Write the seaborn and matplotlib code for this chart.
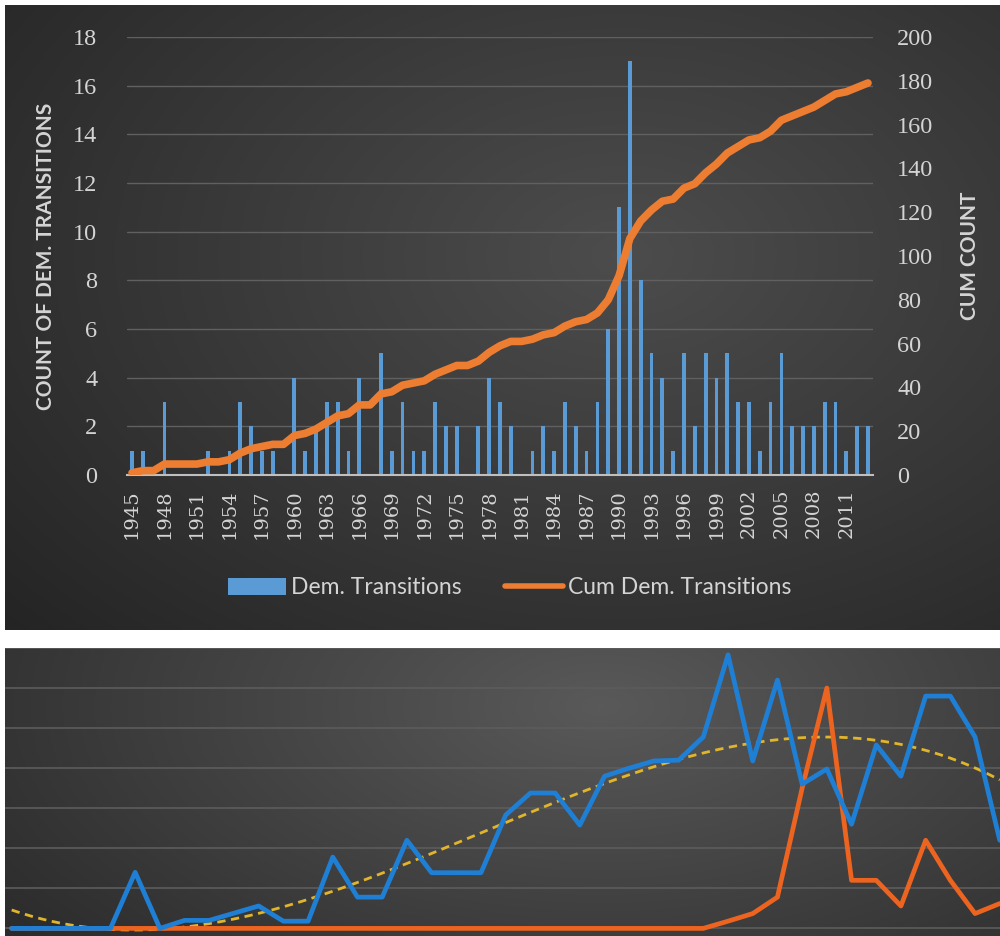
import numpy as np
import pandas as pd
import matplotlib
matplotlib.use("Agg")
import matplotlib.pyplot as plt
from matplotlib.patches import Patch
from matplotlib.lines import Line2D
import seaborn as sns

# top chart: democratic transitions per year, 1945-2013
years = list(range(1945, 2014))
transitions = [1, 1, 0, 3, 0, 0, 0, 1, 0, 1,
               3, 2, 1, 1, 0, 4, 1, 2, 3, 3,
               1, 4, 0, 5, 1, 3, 1, 1, 3, 2,
               2, 0, 2, 4, 3, 2, 0, 1, 2, 1,
               3, 2, 1, 3, 6, 11, 17, 8, 5, 4,
               1, 5, 2, 5, 4, 5, 3, 3, 1, 3,
               5, 2, 2, 2, 3, 3, 1, 2, 2]
left_ticks = [0, 2, 4, 6, 8, 10, 12, 14, 16, 18]
right_ticks = [0, 20, 40, 60, 80, 100, 120, 140, 160, 180, 200]

# bottom chart: two series over 41 periods (no axis labels in the source)
periods = list(range(41))
blue_series = [0, 0, 0, 0, 0, 1.4, 0, 0.2, 0.2, 0.38,
               0.56, 0.18, 0.18, 1.78, 0.78, 0.78, 2.2, 1.39, 1.39, 1.39,
               2.83, 3.38, 3.38, 2.58, 3.8, 4.0, 4.18, 4.2, 4.78, 6.83,
               4.18, 6.2, 3.6, 3.98, 2.6, 4.58, 3.8, 5.8, 5.8, 4.78,
               2.2]
orange_series = [0, 0, 0, 0, 0, 0, 0, 0, 0, 0,
                 0, 0, 0, 0, 0, 0, 0, 0, 0, 0,
                 0, 0, 0, 0, 0, 0, 0, 0, 0, 0.18,
                 0.37, 0.78, 3.5, 6.0, 1.2, 1.2, 0.56, 2.2, 1.2, 0.37,
                 0.62]

sns.set_theme(style="dark")
plt.rcParams["font.family"] = ["Lato", "DejaVu Sans"]

W, H = 1000, 936
fig = plt.figure(figsize=(W / 100, H / 100), dpi=100, facecolor="white")


def px(x0, y0, x1, y1):
    # pixel box (top-left origin) -> figure fraction rect
    return [x0 / W, 1 - y1 / H, (x1 - x0) / W, (y1 - y0) / H]


def radial_bg(rect, center, spread, inner, outer):
    bg = fig.add_axes(rect, zorder=-5)
    yy, xx = np.mgrid[0:1:300j, 0:1:300j]
    d = np.sqrt(((xx - center[0]) / spread[0]) ** 2 + ((yy - center[1]) / spread[1]) ** 2)
    d = np.clip(d, 0, 1)[..., None]
    img = np.array(inner)[None, None, :] * (1 - d) + np.array(outer)[None, None, :] * d
    bg.imshow(img, origin="lower", aspect="auto", extent=[0, 1, 0, 1])
    bg.set_axis_off()
    return bg


radial_bg(px(5, 5, 1000, 630), (0.62, 0.6), (0.85, 0.9), (0.30, 0.30, 0.30), (0.14, 0.14, 0.14))
radial_bg(px(5, 648, 1000, 936), (0.6, 0.8), (0.75, 1.3), (0.35, 0.35, 0.35), (0.17, 0.17, 0.17))

# ---- top chart ----
tick_col = "#d4d4d4"
df = pd.DataFrame({"year": years, "count": transitions})
df["cum"] = df["count"].cumsum()
df["pos"] = np.arange(len(df))

ax = fig.add_axes(px(126.6, 37, 873.4, 475))
ax.set_facecolor("none")
sns.barplot(data=df, x="year", y="count", color="#5b9bd5", saturation=1,
            width=0.35, edgecolor="none", linewidth=0, ax=ax)
ax.set_xlim(-0.5, len(years) - 0.5)
ax.set_ylim(0, 18)
ax.set_yticks(left_ticks)
ax.set_yticklabels([str(t) for t in left_ticks], family="Liberation Serif",
                   fontsize=17.5, color=tick_col)
ax.set_xticks(df["pos"][::3])
ax.set_xticklabels([str(y) for y in years[::3]], rotation=90,
                   family="DejaVu Serif", fontsize=14, color=tick_col)
ax.tick_params(axis="both", length=0)
ax.tick_params(axis="y", pad=21)
ax.tick_params(axis="x", pad=10)
ax.yaxis.grid(True, color="#606060", lw=1)
ax.set_axisbelow(True)
for s in ["top", "left", "right"]:
    ax.spines[s].set_visible(False)
ax.spines["bottom"].set_color("#bfbfbf")
ax.spines["bottom"].set_linewidth(1.5)
ax.set_xlabel("")
ax.set_ylabel("COUNT OF DEM. TRANSITIONS", fontsize=15, fontweight="bold",
              color=tick_col)
ax.yaxis.set_label_coords(-0.0945, 0.5)

ax2 = ax.twinx()
sns.lineplot(data=df, x="pos", y="cum", color="#ed7d31", lw=5.5, ax=ax2)
ax2.set_ylim(0, 200)
ax2.set_yticks(right_ticks)
ax2.set_yticklabels([str(t) for t in right_ticks], family="Liberation Serif",
                    fontsize=17.5, color=tick_col)
ax2.tick_params(axis="y", length=0, pad=17)
for s in ax2.spines.values():
    s.set_visible(False)
ax2.set_ylabel("CUM COUNT", fontsize=15, fontweight="bold", color=tick_col,
               rotation=90)
ax2.yaxis.set_label_coords(1.116, 0.5)
ax2.grid(False)

handles = [Patch(facecolor="#5b9bd5", edgecolor="none"),
           Line2D([0], [0], color="#ed7d31", lw=4)]
fig.legend(handles, ["Dem. Transitions", "Cum Dem. Transitions"],
           loc="center", bbox_to_anchor=(0.51, 1 - 588 / H), ncol=2,
           frameon=False, fontsize=16.5, labelcolor=tick_col,
           handlelength=2.5, handletextpad=0.25, columnspacing=1.9)

# ---- bottom chart ----
bx = fig.add_axes(px(5, 648, 1000, 936))
bx.set_facecolor("none")
sns.regplot(x=periods, y=blue_series, order=3, scatter=False, ci=None,
            ax=bx, line_kws=dict(color="#e0b52c", lw=2, ls=(0, (3, 2))))
sns.lineplot(x=periods, y=orange_series, color="#ec6420", lw=3.4, ax=bx)
sns.lineplot(x=periods, y=blue_series, color="#1f7fd4", lw=3.4, ax=bx)
bx.set_xlim(-0.27, 40.01)
bx.set_ylim(-0.19, 7.0)
bx.set_yticks(range(0, 8))
bx.set_xticks([])
bx.yaxis.grid(True, color="#5c5c5c", lw=1.2)
bx.set_axisbelow(True)
bx.tick_params(axis="y", length=0, labelleft=False)
for s in bx.spines.values():
    s.set_visible(False)

fig.savefig("out.png", dpi=100, facecolor="white")
